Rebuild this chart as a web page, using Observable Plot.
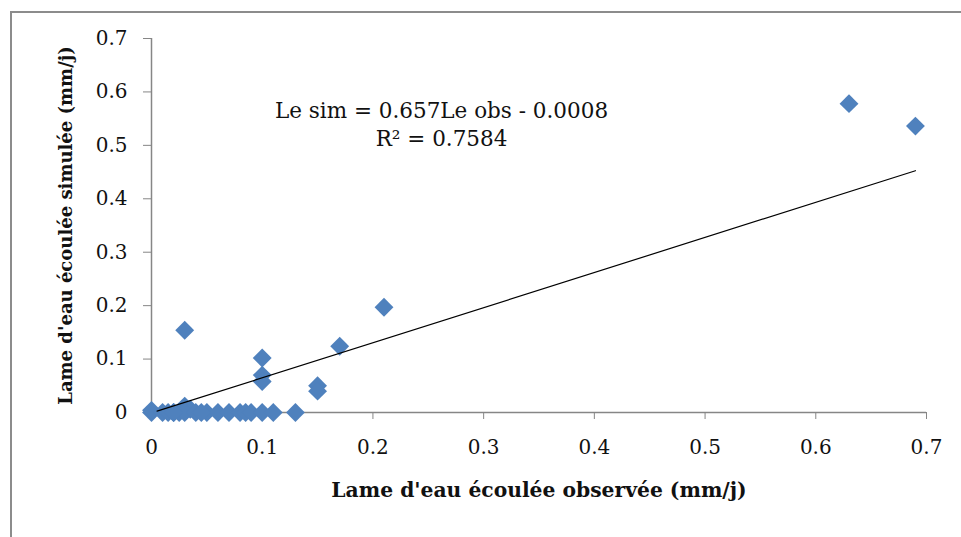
<!DOCTYPE html>
<html>
<head>
<meta charset="utf-8">
<script src="https://cdn.jsdelivr.net/npm/d3@7"></script>
<script src="https://cdn.jsdelivr.net/npm/@observablehq/plot@0.6"></script>
<style>
  html, body { margin: 0; padding: 0; background: #fff; }
  #wrap { position: relative; width: 961px; height: 537px; overflow: hidden; }
  #frame { position: absolute; left: 10px; top: 11px; width: 960px; height: 540px;
           border-left: 2px solid #8c8c8c; border-top: 2px solid #8c8c8c; box-sizing: border-box; }
  #chart { position: absolute; left: 0; top: 0; }
  #chart svg text { font-family: "DejaVu Serif", serif !important; }
</style>
</head>
<body>
<div id="wrap"><div id="frame"></div><div id="chart"></div></div>
<script>
// Observed runoff depth (mm/j)
const obs = [0.63, 0.69, 0.21, 0.03, 0.17, 0.10, 0.10, 0.10, 0.15, 0.15, 0.03, 0.035,
             0, 0, 0.01, 0.015, 0.02, 0.025, 0.03, 0.04, 0.05, 0.06, 0.07, 0.08, 0.085,
             0.09, 0.10, 0.11, 0.13, 0.02, 0.045];
// Simulated runoff depth (mm/j)
const sim = [0.578, 0.536, 0.197, 0.154, 0.124, 0.102, 0.070, 0.058, 0.050, 0.040, 0.012, 0.006,
             0, 0.004, 0, 0, 0, 0, 0, 0, 0, 0, 0, 0, 0,
             0, 0, 0, 0, 0, 0];
const xTicks = [0, 0.1, 0.2, 0.3, 0.4, 0.5, 0.6, 0.7];
const yTicks = [0, 0.1, 0.2, 0.3, 0.4, 0.5, 0.6, 0.7];
const slope = 0.657, intercept = -0.0008;
const trendX = [0.005, 0.69];
const eqLines = ["Le sim = 0.657Le obs - 0.0008", "R\u00b2 = 0.7584"];
const xTitle = "Lame d'eau écoulée observée (mm/j)";
const yTitle = "Lame d'eau écoulée simulée (mm/j)";

const points = obs.map((o, i) => ({obs: o, sim: sim[i]}));
const trend = trendX.map(x => ({obs: x, sim: slope * x + intercept}));

const axisGray = "#868686";

const chart = Plot.plot({
  width: 961,
  height: 537,
  marginLeft: 151,
  marginRight: 35,
  marginTop: 38,
  marginBottom: 125,
  style: {background: "transparent", overflow: "visible"},
  x: {domain: [0, 0.7]},
  y: {domain: [0, 0.7]},
  marks: [
    Plot.ruleY([0], {stroke: axisGray, strokeWidth: 1.5}),
    Plot.ruleX([0], {stroke: axisGray, strokeWidth: 1.5}),
    Plot.axisX({ticks: xTicks, tickSize: 7, tickPadding: 20, stroke: axisGray,
                fontSize: 20, fill: "#111", label: null, tickFormat: d => String(d)}),
    Plot.axisY({ticks: yTicks, tickSize: 8, tickPadding: 16, stroke: axisGray,
                fontSize: 20, fill: "#111", label: null, tickFormat: d => String(d)}),
    Plot.dot(points, {x: "obs", y: "sim", symbol: "diamond2", r: 8.5, fill: "#4F81BD", stroke: "none"}),
    Plot.line(trend, {x: "obs", y: "sim", stroke: "#000", strokeWidth: 1.2}),
    Plot.text([eqLines.join("\n")], {frameAnchor: "top-left", dx: 290, dy: 60, text: d => d,
              fontSize: 21.5, textAnchor: "middle", lineHeight: 1.3, fill: "#111"}),
    Plot.text([xTitle], {frameAnchor: "bottom", dy: 84, text: d => d, fontSize: 20.3,
              textAnchor: "middle", fontWeight: "bold", fill: "#111"}),
    Plot.text([yTitle], {frameAnchor: "left", dx: -85, rotate: -90, text: d => d, fontSize: 18,
              textAnchor: "middle", fontWeight: "bold", fill: "#111"})
  ]
});
document.getElementById("chart").appendChild(chart);
</script>
</body>
</html>
